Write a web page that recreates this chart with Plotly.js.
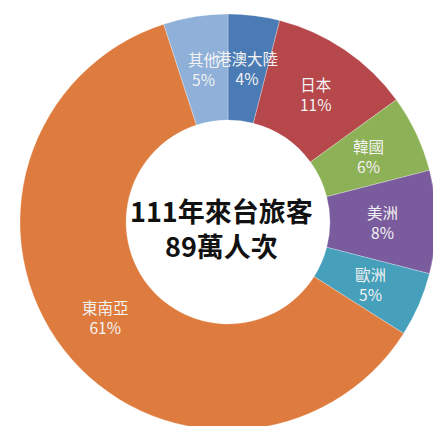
<!DOCTYPE html>
<html><head><meta charset="utf-8">
<script src="https://cdn.plot.ly/plotly-3.0.1.min.js"></script>
<style>html,body{margin:0;padding:0;background:#fff;overflow:hidden;width:433px;height:426px;}#chart{width:440px;height:432px;}</style>
</head><body><div id="chart"></div>
<script>
const categories = ["港澳大陸", "日本", "韓國", "美洲", "歐洲", "東南亞", "其他"];
const shares = [4, 11, 6, 8, 5, 61, 5];
const colors = ["#4a7bb5", "#b6474b", "#8db156", "#7a5c9e", "#46a0bb", "#de7c3f", "#8fb0d8"];
const centerTitle = ["111年來台旅客", "89萬人次"];

const W = 440, H = 432, L = 20, R = 4, T = 14, B = 2;
const plotW = W - L - R, plotH = H - T - B;
const radius = Math.min(plotW, plotH) / 2;
const hole = 0.49;
const labelR = radius * (1 + hole) / 2;

// label annotations placed at each slice's mid-angle via the data
const total = shares.reduce((a, b) => a + b, 0);
let cum = 0;
const annotations = categories.map((c, i) => {
  const mid = (cum + shares[i] / 2) / total * 2 * Math.PI;
  cum += shares[i];
  const dx = labelR * Math.sin(mid), dy = labelR * Math.cos(mid);
  return {
    text: c + "<br>" + shares[i] + "%",
    x: 0.5 + dx / plotW, y: 0.5 + dy / plotH,
    xref: "paper", yref: "paper", showarrow: false,
    xanchor: "center", yanchor: "middle",
    font: {family: "Noto Sans CJK TC, sans-serif", size: 15.5, color: "#f3f3f3"}
  };
});
annotations.push({
  text: "<b>" + centerTitle.join("<br>") + "</b>",
  x: 0.5 - 7 / plotW, y: 0.5 - 6 / plotH, xref: "paper", yref: "paper", showarrow: false,
  xanchor: "center", yanchor: "middle",
  font: {family: "Noto Sans CJK TC, sans-serif", size: 27, color: "#111"}
});

const data = [{
  type: "pie",
  labels: categories,
  values: shares,
  hole: hole,
  sort: false,
  direction: "clockwise",
  rotation: 0,
  marker: {colors: colors, line: {color: "rgba(255,255,255,0.45)", width: 0.6}},
  textinfo: "none",
  hoverinfo: "none",
  showlegend: false
}];

const layout = {
  width: W, height: H,
  margin: {l: L, r: R, t: T, b: B},
  paper_bgcolor: "#fff",
  showlegend: false,
  annotations: annotations
};
Plotly.newPlot("chart", data, layout, {displayModeBar: false, staticPlot: true});
</script></body></html>
